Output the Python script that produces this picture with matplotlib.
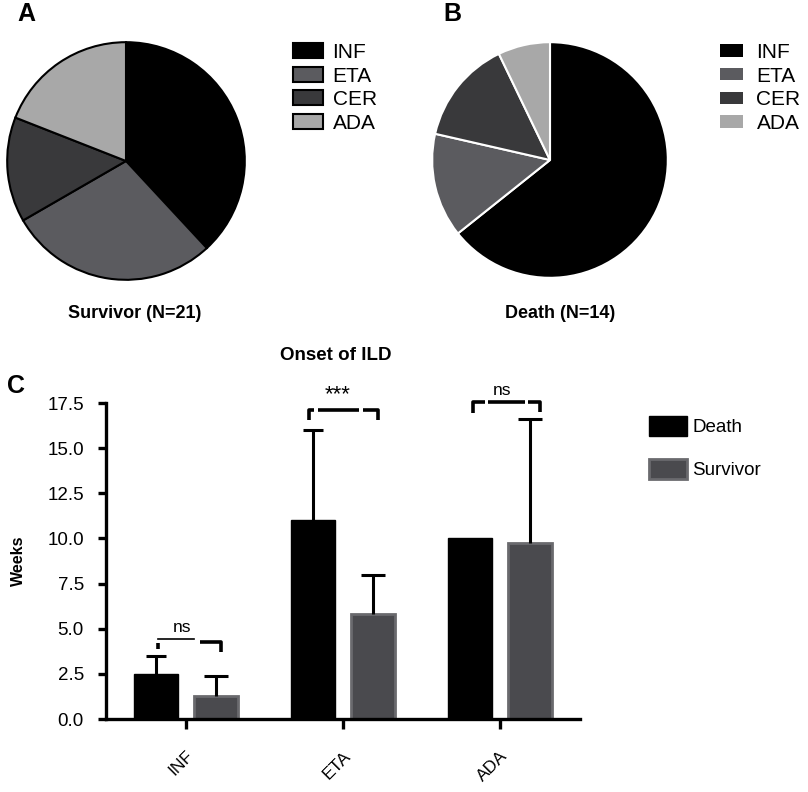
import matplotlib.pyplot as plt
from matplotlib.patches import Patch

plt.rcParams['font.family'] = ['Liberation Sans', 'DejaVu Sans']

# pie data (patient counts)
pie_labels = ["INF", "ETA", "CER", "ADA"]
survivor_counts = [8, 6, 3, 4]
death_counts = [9, 2, 2, 1]
pie_colors = ["#000000", "#5b5b5f", "#39393b", "#a8a8a8"]

# bar data (onset of ILD, weeks)
drugs = ["INF", "ETA", "ADA"]
death_mean = [2.5, 11.0, 10.0]
death_err = [1.0, 5.0, 0.0]
surv_mean = [1.25, 5.8, 9.75]
surv_err = [1.15, 2.2, 6.85]

W, H = 808, 792
fig = plt.figure(figsize=(W / 100, H / 100), dpi=100)


def px_axes(x0, y0, x1, y1):
    return fig.add_axes([x0 / W, 1 - y1 / H, (x1 - x0) / W, (y1 - y0) / H])


# ---- A: survivor pie
axA = px_axes(6, 41, 246, 281)
axA.pie(survivor_counts, colors=pie_colors, startangle=90, counterclock=False,
        wedgeprops=dict(edgecolor="black", linewidth=1.5))
axA.set_xlim(-1.01, 1.01)
axA.set_ylim(-1.01, 1.01)
handlesA = [Patch(facecolor=c, edgecolor="black", linewidth=1.5) for c in pie_colors]
fig.legend(handlesA, pie_labels, loc="upper left", bbox_to_anchor=(293 / W, 1 - 43 / H),
           frameon=False, fontsize=15, handlelength=1.45, handleheight=0.72,
           labelspacing=0.22, handletextpad=0.45, borderpad=0, borderaxespad=0)
fig.text(135 / W, 1 - 313 / H, "Survivor (N=21)", ha="center", va="center",
         fontsize=13, fontweight="bold")
fig.text(17 / W, 1 - 14 / H, "A", ha="left", va="center", fontsize=18, fontweight="bold")

# ---- B: death pie
axB = px_axes(431, 41, 669, 279)
axB.pie(death_counts, colors=pie_colors, startangle=90, counterclock=False,
        wedgeprops=dict(edgecolor="white", linewidth=1.5))
axB.set_xlim(-1.01, 1.01)
axB.set_ylim(-1.01, 1.01)
handlesB = [Patch(facecolor=c, edgecolor="none") for c in pie_colors]
fig.legend(handlesB, pie_labels, loc="upper left", bbox_to_anchor=(720 / W, 1 - 43 / H),
           frameon=False, fontsize=15, handlelength=1.1, handleheight=0.55,
           labelspacing=0.22, handletextpad=0.65, borderpad=0, borderaxespad=0)
fig.text(560 / W, 1 - 313 / H, "Death (N=14)", ha="center", va="center",
         fontsize=13, fontweight="bold")
fig.text(443 / W, 1 - 14 / H, "B", ha="left", va="center", fontsize=18, fontweight="bold")

# ---- C: bar chart
ax = px_axes(106, 403, 580, 719)
x = list(range(len(drugs)))
off, bw = 0.19, 0.28
xd = [i - off for i in x]
xs = [i + off for i in x]
ax.bar(xd, death_mean, width=bw, color="black", edgecolor="black", label="Death")
ax.bar(xs, surv_mean, width=bw, color="#4a4a4e", edgecolor="#6a6a6e", linewidth=2,
       label="Survivor")
# only draw the upper error bars that exist
di = [i for i in x if death_err[i] > 0]
eb1 = ax.errorbar([xd[i] for i in di], [death_mean[i] for i in di],
                  yerr=[[0] * len(di), [death_err[i] for i in di]], fmt="none",
                  ecolor="black", elinewidth=2.2, capsize=7, capthick=2.2)
eb2 = ax.errorbar(xs, surv_mean, yerr=[[0] * 3, surv_err], fmt="none", ecolor="black",
                  elinewidth=2.2, capsize=8.5, capthick=2.2)
for eb in (eb1, eb2):
    eb[1][0].set_visible(False)  # hide lower cap

ax.set_xlim(-0.508, 2.508)
ax.set_ylim(0, 17.5)
ax.set_yticks([0, 2.5, 5, 7.5, 10, 12.5, 15, 17.5])
ax.set_yticklabels(["0.0", "2.5", "5.0", "7.5", "10.0", "12.5", "15.0", "17.5"],
                   fontsize=13.5)
ax.set_xticks(x)
ax.set_xticklabels(drugs, rotation=45, fontsize=12.5, ha="right", rotation_mode="anchor")
for s in ["top", "right"]:
    ax.spines[s].set_visible(False)
for s in ["left", "bottom"]:
    ax.spines[s].set_linewidth(2.4)
ax.tick_params(axis="y", width=2.4, length=6, pad=10)
ax.tick_params(axis="x", width=2.4, length=7, pad=14)
ax.set_ylabel("Weeks", fontsize=11.5, fontweight="bold", labelpad=15)
ax.set_title("Onset of ILD", fontsize=13.5, fontweight="bold", pad=31, x=0.485)
fig.text(7 / W, 1 - 386 / H, "C", ha="left", va="center", fontsize=18, fontweight="bold")

# significance brackets
lw = 2.6
kw = dict(color="black", lw=lw, clip_on=False, solid_capstyle="butt")
# INF
ax.plot([-0.178, -0.178], [3.9, 4.2], **kw)
ax.plot([-0.178, 0.05], [4.43, 4.43], color="black", lw=1.2, clip_on=False)
ax.plot([0.089, 0.222, 0.222], [4.26, 4.26, 3.7], **kw)
ax.text(-0.025, 5.05, "ns", ha="center", va="center", fontsize=12.5)
# ETA
ax.plot([0.784, 0.784, 0.816], [16.55, 17.1, 17.1], **kw)
ax.plot([0.841, 1.10], [17.1, 17.1], **kw)
ax.plot([1.127, 1.222, 1.222], [17.1, 17.1, 16.55], **kw)
ax.text(0.968, 17.95, "***", ha="center", va="center", fontsize=16)
# ADA
ax.plot([1.829, 1.829, 1.905], [16.94, 17.55, 17.55], **kw)
ax.plot([1.924, 2.159], [17.55, 17.55], **kw)
ax.plot([2.178, 2.254, 2.254], [17.55, 17.55, 17.0], **kw)
ax.text(2.01, 18.2, "ns", ha="center", va="center", fontsize=12.5)

handlesC = [Patch(facecolor="black", edgecolor="black"),
            Patch(facecolor="#4a4a4e", edgecolor="#6a6a6e", linewidth=2)]
fig.legend(handlesC, ["Death", "Survivor"], loc="upper left",
           bbox_to_anchor=(649 / W, 1 - 416 / H), frameon=False, fontsize=13.5,
           handlelength=2.0, handleheight=1.25, labelspacing=1.2, handletextpad=0.3,
           borderpad=0, borderaxespad=0)

fig.savefig("out.png", dpi=100)
